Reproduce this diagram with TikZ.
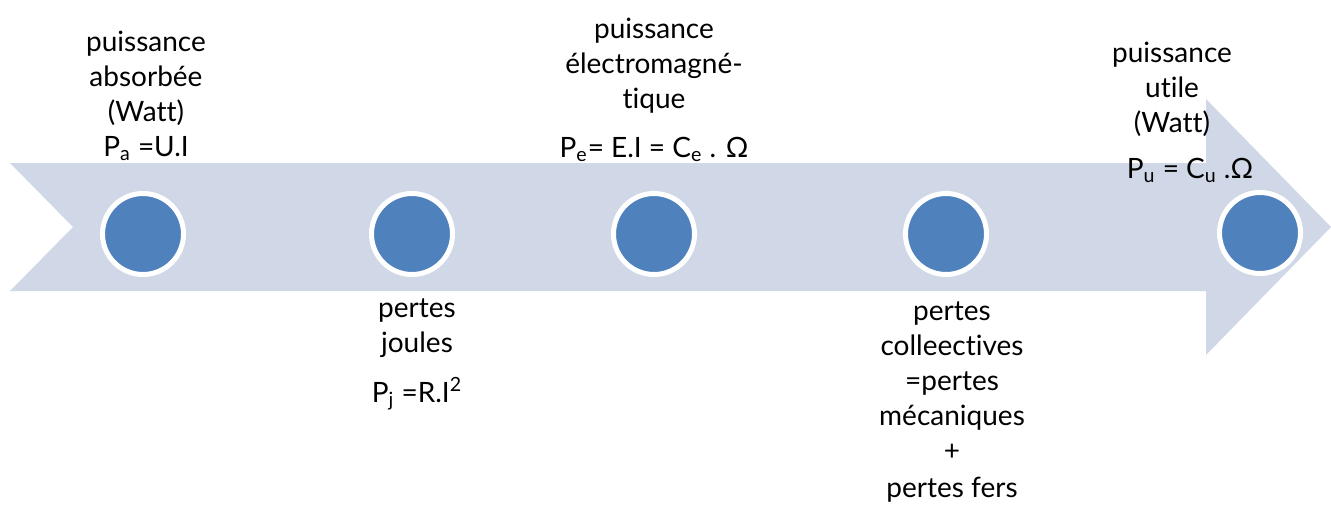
\documentclass[tikz,border=0pt]{standalone}
\usepackage{fontspec}
\setmainfont{Lato}[Ligatures={NoCommon,TeX}]
\usepackage{tikz}
\usetikzlibrary{positioning}

\definecolor{arrowfill}{HTML}{D0D8E8}
\definecolor{dotblue}{HTML}{4F81BD}

\begin{document}
\begin{tikzpicture}[
    x=0.5pt, y=-0.5pt,
    dot/.style={circle, draw=white, line width=2.5pt, fill=dotblue, minimum size=40.5pt, inner sep=0pt},
    txt/.style={align=center, anchor=base, inner sep=0pt, font=\fontsize{14}{17.5}\selectfont}
]
    \useasboundingbox (0,0) rectangle (1331,519);
    % big arrow
    \fill[arrowfill] (10,163) -- (1206,163) -- (1206,99) -- (1331,227) -- (1206,355)
        -- (1206,291) -- (10,291) -- (73,227) -- cycle;

    \node[dot] (c1) at (143,234) {};
    \node[dot] (c2) at (412,234) {};
    \node[dot] (c3) at (654,234) {};
    \node[dot] (c4) at (946,234) {};
    \node[dot] (c5) at (1260,233) {};

    % texts, placed by the baseline of their last line
    \node[txt] (absorbee) at (146,156) {puissance\\absorbée\\(Watt)\\P\textsubscript{a} =U.I};
    \node[txt] (electro) at (654,157) {puissance\\électromagné-\\tique\\[7pt]P\textsubscript{e}= E.I = C\textsubscript{e} . Ω};
    \node[txt] (utile) at (1172,178) {puissance\\utile\\(Watt)\\[5.5pt]\hspace*{18pt}P\textsubscript{u} = C\textsubscript{u} .Ω};
    \node[txt] (joules) at (417,402) {pertes\\joules\\[7.5pt]P\textsubscript{j} =R.I\textsuperscript{2}};
    \node[txt] (collectives) at (952,497) {pertes\\colleectives\\=pertes\\mécaniques\\+\\[1pt]pertes fers};
\end{tikzpicture}
\end{document}
